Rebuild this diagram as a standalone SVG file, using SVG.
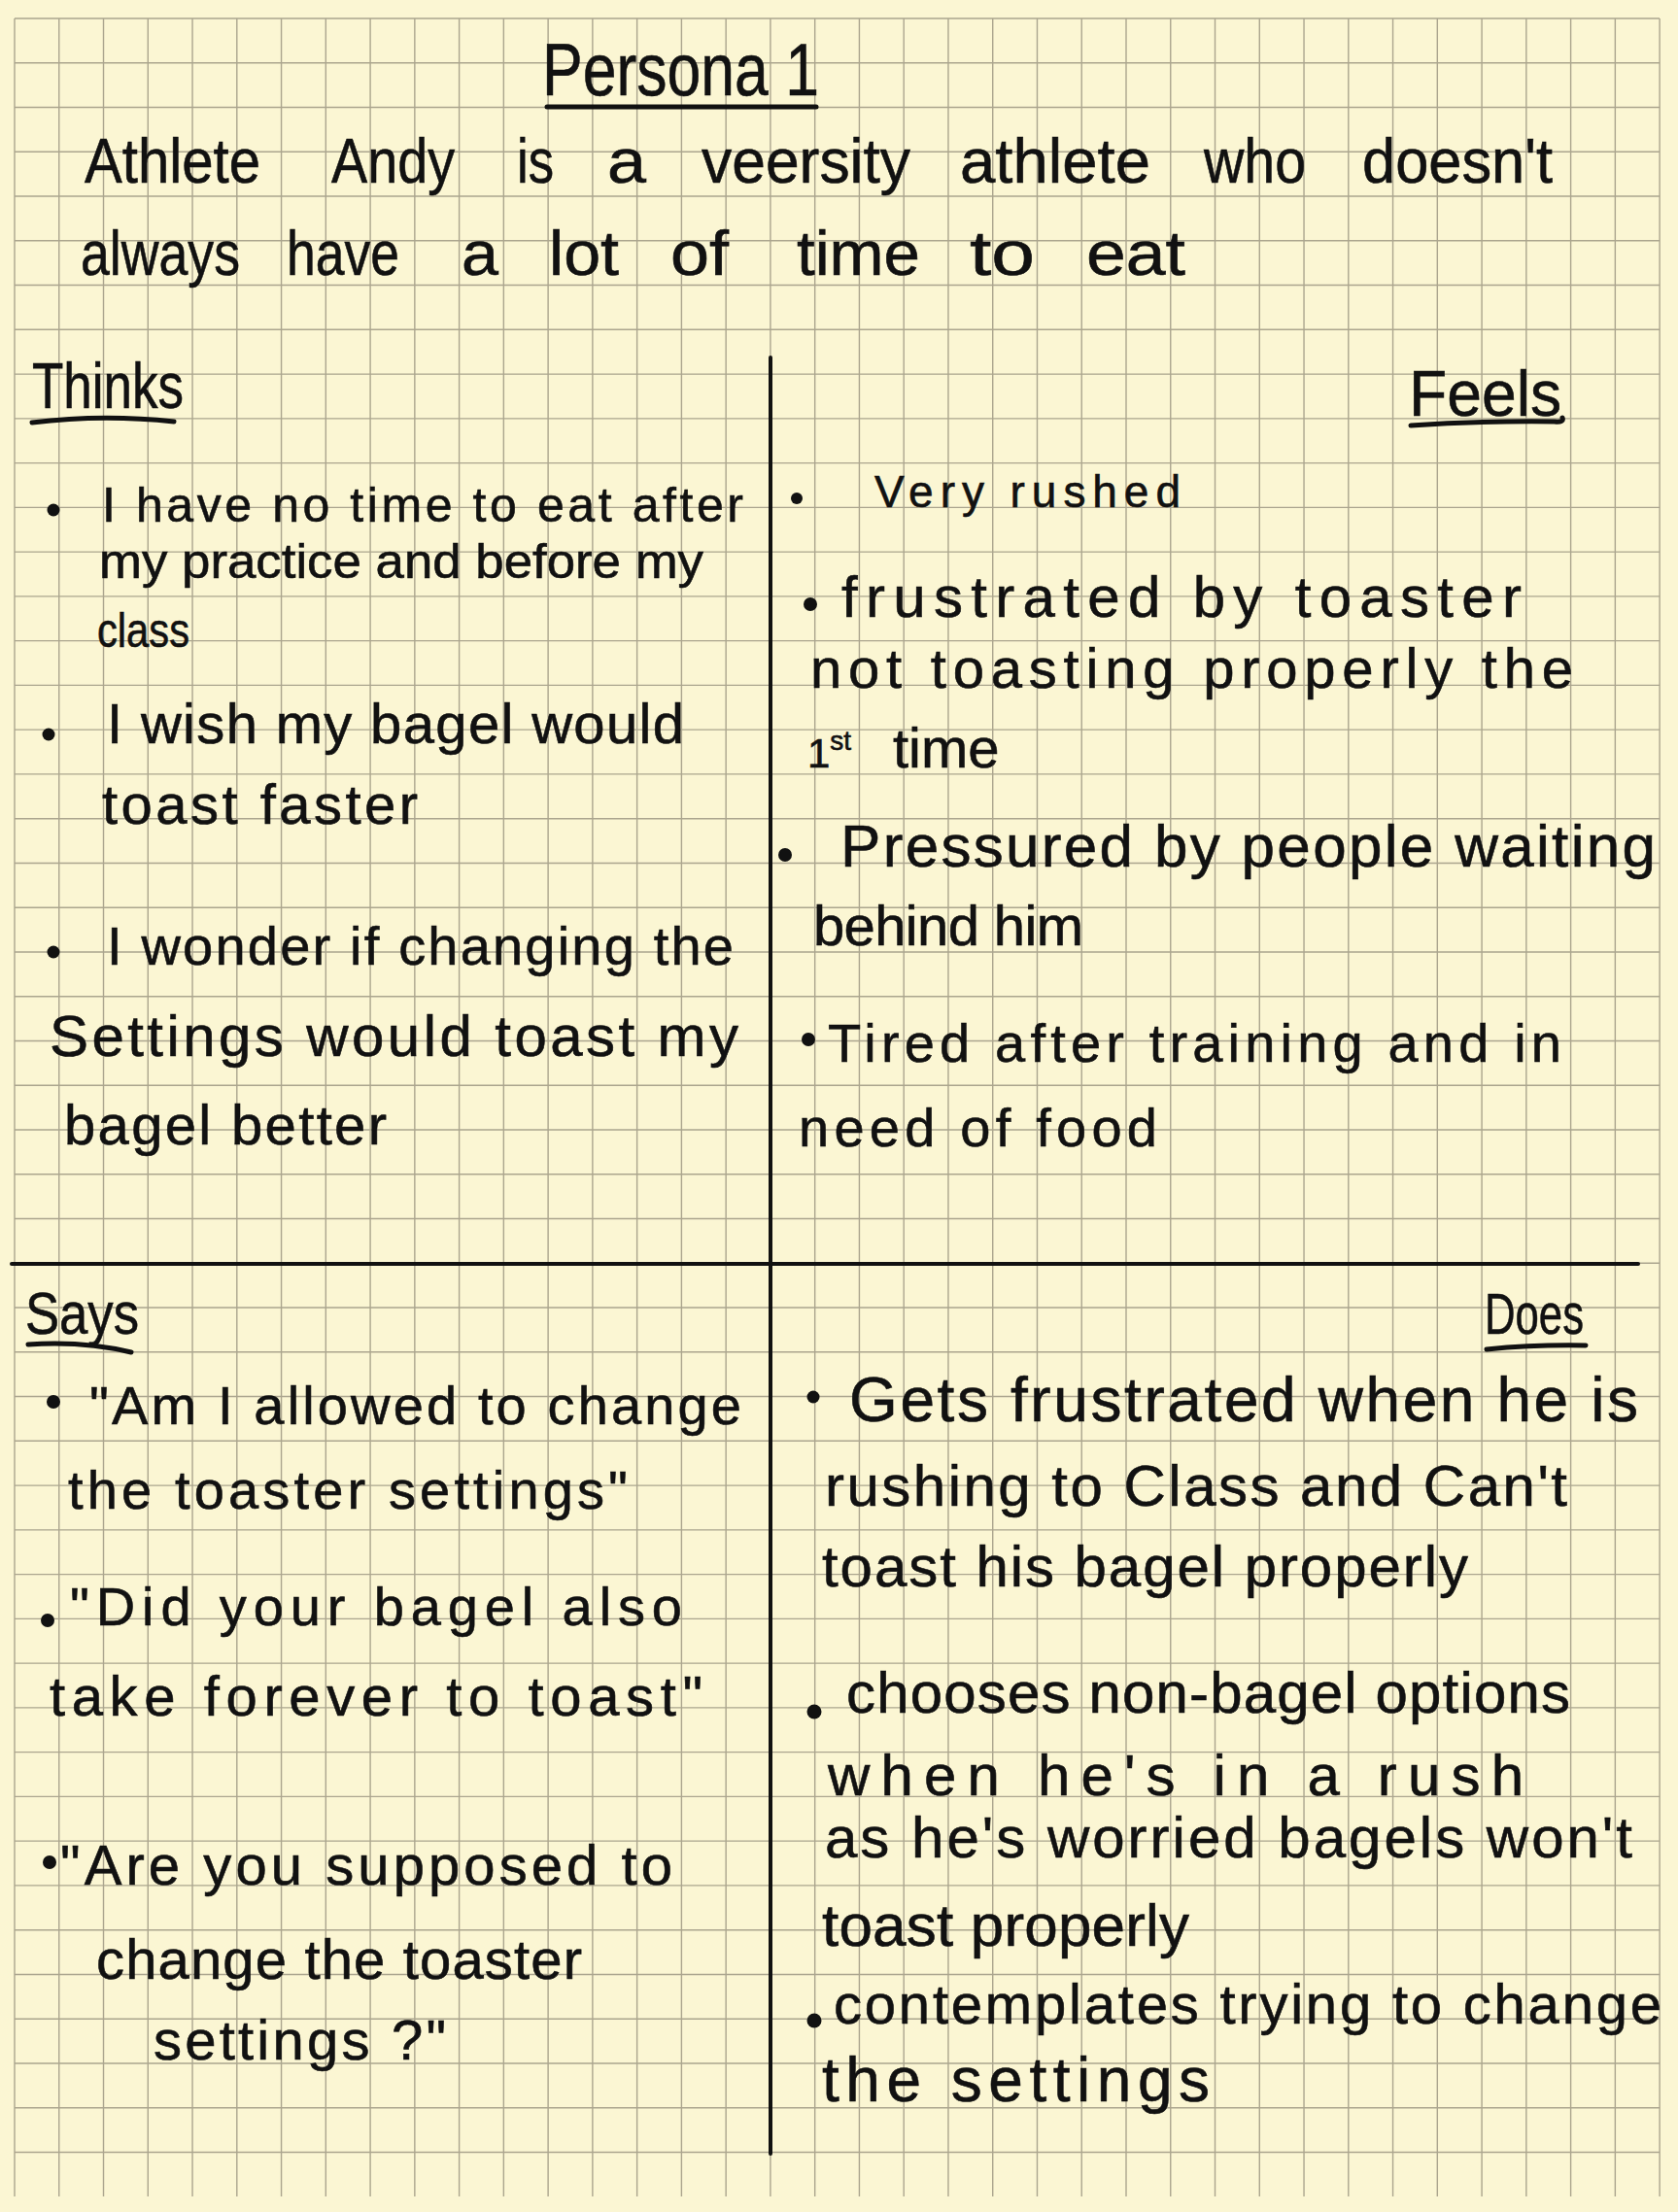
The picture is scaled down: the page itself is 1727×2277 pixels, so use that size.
<svg xmlns="http://www.w3.org/2000/svg" width="1727" height="2277" viewBox="0 0 1727 2277">
  <style>
    .hw { font-family: "Liberation Sans Narrow", "Liberation Sans", sans-serif; fill: #111; stroke: #111; stroke-width: 0.6; }
    .ink { fill: none; stroke: #111; stroke-linecap: round; stroke-linejoin: round; }
    .dot { fill: #111; }
    .grid { fill: none; stroke: #aba58e; stroke-width: 1.4; }
  </style>

  <!-- paper -->
  <rect x="0" y="0" width="1727" height="2277" fill="#fbf6d3"/>

  <!-- squared grid, 37 x 49 cells -->
  <path class="grid" d="M15 19V2261m45.76-2242V2261m45.76-2242V2261m45.76-2242V2261m45.76-2242V2261m45.76-2242V2261m45.76-2242V2261m45.76-2242V2261m45.76-2242V2261m45.76-2242V2261m45.76-2242V2261m45.76-2242V2261m45.76-2242V2261m45.76-2242V2261m45.76-2242V2261m45.76-2242V2261m45.76-2242V2261m45.76-2242V2261m45.76-2242V2261m45.76-2242V2261m45.76-2242V2261m45.76-2242V2261m45.76-2242V2261m45.76-2242V2261m45.76-2242V2261m45.76-2242V2261m45.76-2242V2261m45.76-2242V2261m45.76-2242V2261m45.76-2242V2261m45.76-2242V2261m45.76-2242V2261m45.76-2242V2261m45.76-2242V2261m45.76-2242V2261m45.76-2242V2261m45.76-2242V2261m45.76-2242V2261"/>
  <path class="grid" d="M15 19H1708m-1693 45.76H1708m-1693 45.76H1708m-1693 45.76H1708m-1693 45.76H1708m-1693 45.76H1708m-1693 45.76H1708m-1693 45.76H1708m-1693 45.76H1708m-1693 45.76H1708m-1693 45.76H1708m-1693 45.76H1708m-1693 45.76H1708m-1693 45.76H1708m-1693 45.76H1708m-1693 45.76H1708m-1693 45.76H1708m-1693 45.76H1708m-1693 45.76H1708m-1693 45.76H1708m-1693 45.76H1708m-1693 45.76H1708m-1693 45.76H1708m-1693 45.76H1708m-1693 45.76H1708m-1693 45.76H1708m-1693 45.76H1708m-1693 45.76H1708m-1693 45.76H1708m-1693 45.76H1708m-1693 45.76H1708m-1693 45.76H1708m-1693 45.76H1708m-1693 45.76H1708m-1693 45.76H1708m-1693 45.76H1708m-1693 45.76H1708m-1693 45.76H1708m-1693 45.76H1708m-1693 45.76H1708m-1693 45.76H1708m-1693 45.76H1708m-1693 45.76H1708m-1693 45.76H1708m-1693 45.76H1708m-1693 45.76H1708m-1693 45.76H1708m-1693 45.76H1708m-1693 45.76H1708"/>

  <!-- quadrant dividers -->
  <g id="quadrant-lines">
    <path class="ink" stroke-width="4" d="M793 368V2217"/>
    <path class="ink" stroke-width="4" d="M12 1301H1686"/>
  </g>

  <!-- heading -->
  <g id="title">
    <text class="hw" x="558" y="98" font-size="76" textLength="285" lengthAdjust="spacingAndGlyphs">Persona 1</text>
    <path class="ink" stroke-width="5" d="M563 110H840"/>
  </g>

  <g id="intro">
    <text class="hw" y="188" font-size="64"><tspan x="87" textLength="181" lengthAdjust="spacingAndGlyphs">Athlete</tspan> <tspan x="341" textLength="127" lengthAdjust="spacingAndGlyphs">Andy</tspan> <tspan x="532" textLength="38" lengthAdjust="spacingAndGlyphs">is</tspan> <tspan x="625" textLength="40" lengthAdjust="spacingAndGlyphs">a</tspan> <tspan x="722" textLength="215" lengthAdjust="spacingAndGlyphs">veersity</tspan> <tspan x="988" textLength="196" lengthAdjust="spacingAndGlyphs">athlete</tspan> <tspan x="1239" textLength="105" lengthAdjust="spacingAndGlyphs">who</tspan> <tspan x="1402" textLength="196" lengthAdjust="spacingAndGlyphs">doesn't</tspan></text>
    <text class="hw" y="283" font-size="64"><tspan x="83" textLength="164" lengthAdjust="spacingAndGlyphs">always</tspan> <tspan x="295" textLength="116" lengthAdjust="spacingAndGlyphs">have</tspan> <tspan x="475" textLength="38" lengthAdjust="spacingAndGlyphs">a</tspan> <tspan x="565" textLength="72" lengthAdjust="spacingAndGlyphs">lot</tspan> <tspan x="690" textLength="60" lengthAdjust="spacingAndGlyphs">of</tspan> <tspan x="820" textLength="127" lengthAdjust="spacingAndGlyphs">time</tspan> <tspan x="998" textLength="67" lengthAdjust="spacingAndGlyphs">to</tspan> <tspan x="1118" textLength="102" lengthAdjust="spacingAndGlyphs">eat</tspan></text>
  </g>

  <!-- Thinks quadrant -->
  <g id="thinks">
    <text class="hw" x="33" y="420" font-size="66" textLength="156" lengthAdjust="spacingAndGlyphs">Thinks</text>
    <path class="ink" stroke-width="5" d="M33 435Q105 426 179 434"/>
    <circle class="dot" cx="55" cy="525" r="6.5"/>
    <text class="hw" x="105" y="537" font-size="50" textLength="660" lengthAdjust="spacing">I have no time to eat after</text>
    <text class="hw" x="102" y="595" font-size="50" textLength="622" lengthAdjust="spacingAndGlyphs">my practice and before my</text>
    <text class="hw" x="100" y="666" font-size="50" textLength="95" lengthAdjust="spacingAndGlyphs">class</text>
    <circle class="dot" cx="50" cy="756" r="6.5"/>
    <text class="hw" x="110" y="765" font-size="58" textLength="594" lengthAdjust="spacing">I wish my bagel would</text>
    <text class="hw" x="105" y="848" font-size="58" textLength="325" lengthAdjust="spacing">toast faster</text>
    <circle class="dot" cx="55" cy="980" r="6.5"/>
    <text class="hw" x="110" y="993" font-size="56" textLength="645" lengthAdjust="spacing">I wonder if changing the</text>
    <text class="hw" x="51" y="1087" font-size="60" textLength="709" lengthAdjust="spacing">Settings would toast my</text>
    <text class="hw" x="66" y="1178" font-size="58" textLength="332" lengthAdjust="spacing">bagel better</text>
  </g>

  <!-- Feels quadrant -->
  <g id="feels">
    <text class="hw" x="1450" y="428" font-size="66" textLength="157" lengthAdjust="spacingAndGlyphs">Feels</text>
    <path class="ink" stroke-width="5" d="M1452 438Q1530 433 1600 434Q1610 435 1608 430"/>
    <circle class="dot" cx="820" cy="513" r="6"/>
    <text class="hw" x="900" y="522" font-size="46" textLength="315" lengthAdjust="spacing">Very rushed</text>
    <circle class="dot" cx="834" cy="622" r="7"/>
    <text class="hw" x="866" y="635" font-size="60" textLength="700" lengthAdjust="spacing">frustrated by toaster</text>
    <text class="hw" x="834" y="708" font-size="58" textLength="785" lengthAdjust="spacing">not toasting properly the</text>
    <text class="hw" x="831" y="790" font-size="42">1<tspan font-size="28" dy="-18">st</tspan> <tspan x="919" dy="18" font-size="58">time</tspan></text>
    <circle class="dot" cx="808" cy="880" r="7"/>
    <text class="hw" x="865" y="892" font-size="62" textLength="839" lengthAdjust="spacing">Pressured by people waiting</text>
    <text class="hw" x="837" y="973" font-size="58" textLength="278" lengthAdjust="spacing">behind him</text>
    <circle class="dot" cx="832" cy="1070" r="7"/>
    <text class="hw" x="852" y="1093" font-size="56" textLength="755" lengthAdjust="spacing">Tired after training and in</text>
    <text class="hw" x="822" y="1180" font-size="56" textLength="369" lengthAdjust="spacing">need of food</text>
  </g>

  <!-- Says quadrant -->
  <g id="says">
    <text class="hw" x="26" y="1373" font-size="62" textLength="117" lengthAdjust="spacingAndGlyphs">Says</text>
    <path class="ink" stroke-width="5" d="M29 1384Q85 1380 135 1392"/>
    <circle class="dot" cx="55" cy="1443" r="7"/>
    <text class="hw" x="92" y="1466" font-size="56" textLength="671" lengthAdjust="spacing">"Am I allowed to change</text>
    <text class="hw" x="70" y="1553" font-size="56" textLength="576" lengthAdjust="spacing">the toaster settings"</text>
    <circle class="dot" cx="49" cy="1668" r="7"/>
    <text class="hw" x="72" y="1673" font-size="56" textLength="630" lengthAdjust="spacing">"Did your bagel also</text>
    <text class="hw" x="51" y="1766" font-size="58" textLength="672" lengthAdjust="spacing">take forever to toast"</text>
    <circle class="dot" cx="51" cy="1917" r="7"/>
    <text class="hw" x="62" y="1940" font-size="58" textLength="630" lengthAdjust="spacing">"Are you supposed to</text>
    <text class="hw" x="99" y="2037" font-size="58" textLength="500" lengthAdjust="spacing">change the toaster</text>
    <text class="hw" x="158" y="2120" font-size="58" textLength="301" lengthAdjust="spacing">settings ?"</text>
  </g>

  <!-- Does quadrant -->
  <g id="does">
    <text class="hw" x="1528" y="1373" font-size="60" textLength="102" lengthAdjust="spacingAndGlyphs">Does</text>
    <path class="ink" stroke-width="5" d="M1530 1389Q1580 1384 1632 1385"/>
    <circle class="dot" cx="837" cy="1438" r="6.5"/>
    <text class="hw" x="874" y="1463" font-size="64" textLength="812" lengthAdjust="spacing">Gets frustrated when he is</text>
    <text class="hw" x="849" y="1550" font-size="60" textLength="764" lengthAdjust="spacing">rushing to Class and Can't</text>
    <text class="hw" x="846" y="1633" font-size="60" textLength="665" lengthAdjust="spacing">toast his bagel properly</text>
    <circle class="dot" cx="838" cy="1762" r="7.5"/>
    <text class="hw" x="871" y="1763" font-size="60" textLength="745" lengthAdjust="spacing">chooses non-bagel options</text>
    <text class="hw" x="852" y="1848" font-size="60" textLength="716" lengthAdjust="spacing">when he's in a rush</text>
    <text class="hw" x="849" y="1912" font-size="60" textLength="831" lengthAdjust="spacing">as he's worried bagels won't</text>
    <text class="hw" x="846" y="2003" font-size="62" textLength="378" lengthAdjust="spacing">toast properly</text>
    <circle class="dot" cx="838" cy="2080" r="7.5"/>
    <text class="hw" x="858" y="2083" font-size="58" textLength="852" lengthAdjust="spacing">contemplates trying to change</text>
    <text class="hw" x="846" y="2163" font-size="64" textLength="399" lengthAdjust="spacing">the settings</text>
  </g>
</svg>
